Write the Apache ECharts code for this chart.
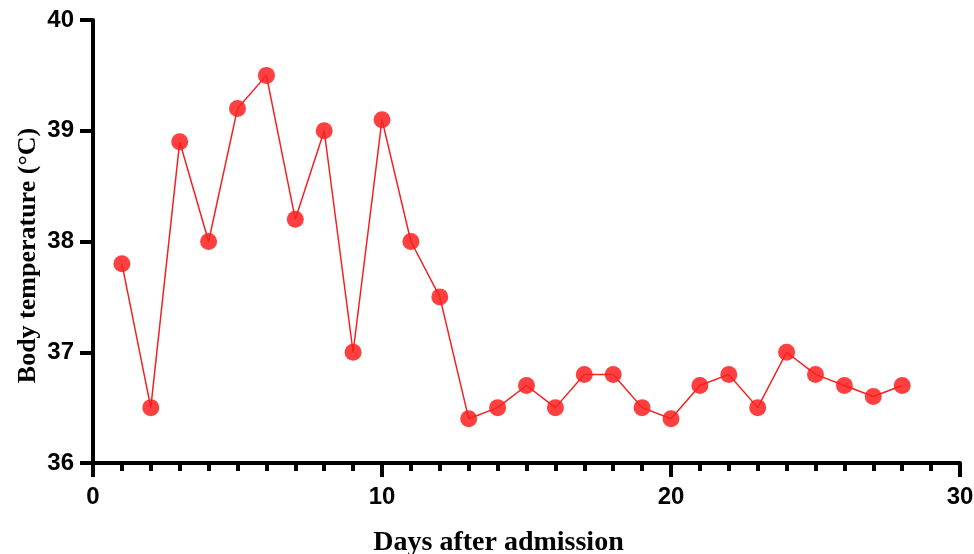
<!DOCTYPE html>
<html><head><meta charset="utf-8">
<script src="https://cdn.jsdelivr.net/npm/echarts@6/dist/echarts.min.js"></script>
<style>html,body{margin:0;padding:0;background:#fff}#c{width:974px;height:554px}</style>
</head><body><div id="c"></div>
<script>
const days = [1,2,3,4,5,6,7,8,9,10,11,12,13,14,15,16,17,18,19,20,21,22,23,24,25,26,27,28];
const temps = [37.8,36.5,38.9,38.0,39.2,39.5,38.2,39.0,37.0,39.1,38.0,37.5,36.4,36.5,36.7,36.5,36.8,36.8,36.5,36.4,36.7,36.8,36.5,37.0,36.8,36.7,36.6,36.7];
const xTitle = 'Days after admission';
const yTitle = 'Body temperature (°C)';
const chart = echarts.init(document.getElementById('c'));
chart.setOption({
  animation: false,
  grid: {left: 93, right: 14, top: 20, bottom: 91, containLabel: false, outerBoundsMode: 'none'},
  xAxis: {
    type: 'value', min: 0, max: 30, interval: 10,
    name: xTitle, nameLocation: 'middle', nameGap: 66,
    nameTextStyle: {fontFamily: 'Liberation Serif', fontWeight: 'bold', fontSize: 28, color: '#000', padding: [0, 56, 0, 0]},
    axisLine: {show: true, onZero: false, lineStyle: {color: '#000', width: 4}},
    axisTick: {show: true, length: 14, lineStyle: {color: '#000', width: 4}},
    minorTick: {show: true, splitNumber: 10, length: 8, lineStyle: {color: '#000', width: 4}},
    axisLabel: {fontFamily: 'Liberation Sans', fontWeight: 'bold', fontSize: 24, color: '#000', margin: 22},
    splitLine: {show: false}
  },
  yAxis: {
    type: 'value', min: 36, max: 40, interval: 1,
    name: yTitle, nameLocation: 'middle', nameGap: 52, nameMoveOverlap: false,
    nameTextStyle: {fontFamily: 'Liberation Serif', fontWeight: 'bold', fontSize: 26, color: '#000', padding: [0, 28, 0, 0]},
    axisLine: {show: true, onZero: false, lineStyle: {color: '#000', width: 4}},
    axisTick: {show: true, length: 13, lineStyle: {color: '#000', width: 4}},
    axisLabel: {fontFamily: 'Liberation Sans', fontWeight: 'bold', fontSize: 24, color: '#000', margin: 19},
    splitLine: {show: false}
  },
  series: [{
    type: 'line',
    data: days.map((d, i) => [d, temps[i]]),
    symbol: 'circle', symbolSize: 17,
    itemStyle: {color: 'rgba(255,30,30,0.85)'},
    lineStyle: {color: '#f52020', width: 1.5}
  }]
});
</script></body></html>
